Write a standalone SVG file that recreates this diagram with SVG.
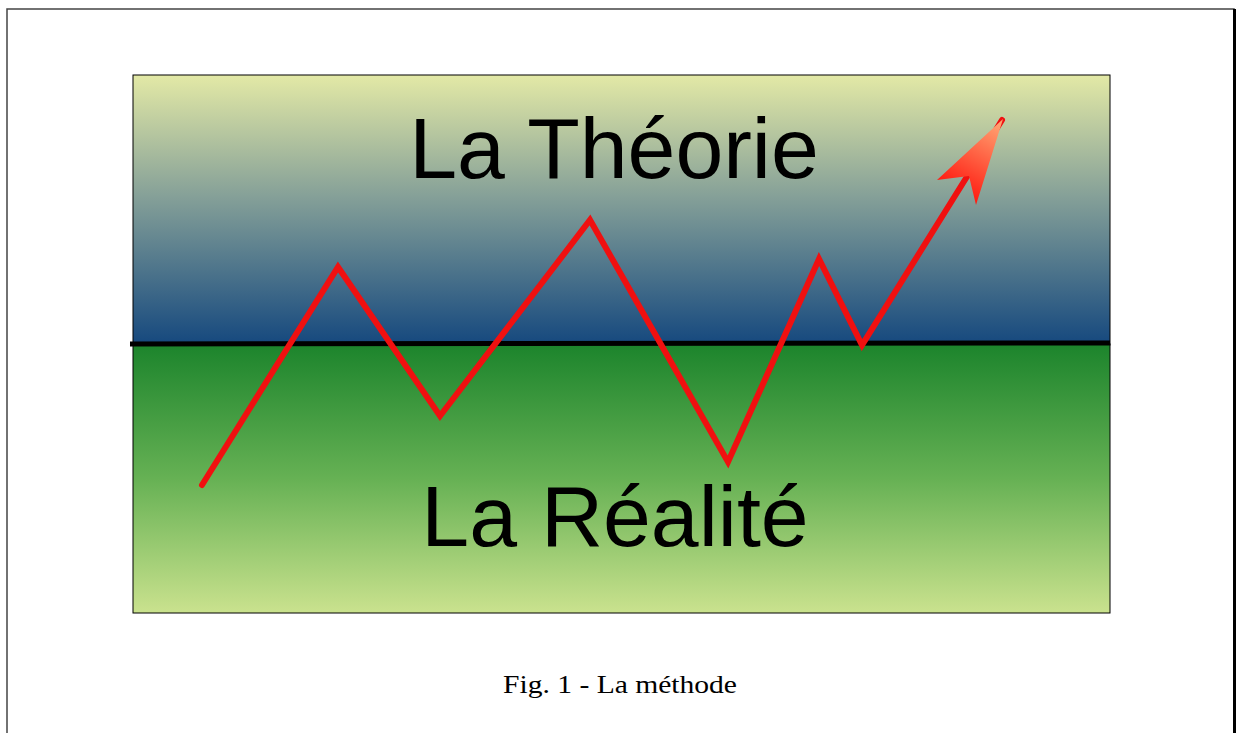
<svg xmlns="http://www.w3.org/2000/svg" width="1237" height="733" viewBox="0 0 1237 733">
<defs>
<linearGradient id="top" x1="0" y1="0" x2="0" y2="1">
<stop offset="0" stop-color="#e3e9a6"/>
<stop offset="0.45" stop-color="#85a098"/>
<stop offset="1" stop-color="#15487e"/>
</linearGradient>
<linearGradient id="bot" x1="0" y1="0" x2="0" y2="1">
<stop offset="0" stop-color="#1c842c"/>
<stop offset="0.5" stop-color="#66b154"/>
<stop offset="1" stop-color="#cae28e"/>
</linearGradient>
<linearGradient id="arr" gradientUnits="userSpaceOnUse" x1="1000" y1="125" x2="960" y2="195">
<stop offset="0" stop-color="#ffa070"/>
<stop offset="1" stop-color="#ff1a10"/>
</linearGradient>
<style>
.big{font-family:"Liberation Sans",Arial,sans-serif;font-size:86px;fill:#000;text-anchor:middle}
.cap{font-family:"Liberation Serif","Times New Roman",serif;font-size:24.5px;fill:#000;text-anchor:middle}
.red{fill:none;stroke:#f01010;stroke-width:6;stroke-linecap:round;stroke-linejoin:miter}
</style>
</defs>
<rect x="7" y="9" width="1227" height="730" fill="#fff" stroke="#444" stroke-width="1.5"/>
<line x1="1234.5" y1="9" x2="1234.5" y2="733" stroke="#000" stroke-width="3"/>
<g id="theorie">
<rect x="133" y="75" width="977" height="270" fill="url(#top)" stroke="#000" stroke-width="1"/>
<text class="big" x="614" y="178">La Théorie</text>
</g>
<g id="realite">
<rect x="133" y="344" width="977" height="269" fill="url(#bot)" stroke="#000" stroke-width="1"/>
<text class="big" x="615" y="546">La Réalité</text>
</g>
<g id="connectors">
<line x1="130" y1="344" x2="1110" y2="343" stroke="#000" stroke-width="5"/>
<polyline class="red" points="202,485 338,267 440,416 590,220 728,462 819,259 862,345 968,175"/>
<line x1="968" y1="175" x2="1002" y2="120" stroke="#f01010" stroke-width="6" stroke-linecap="round"/>
<polygon points="1003,119 976,205 969,176 937,180" fill="url(#arr)"/>
</g>
<text class="cap" x="620" y="693" textLength="234" lengthAdjust="spacingAndGlyphs">Fig. 1 - La méthode</text>
</svg>
